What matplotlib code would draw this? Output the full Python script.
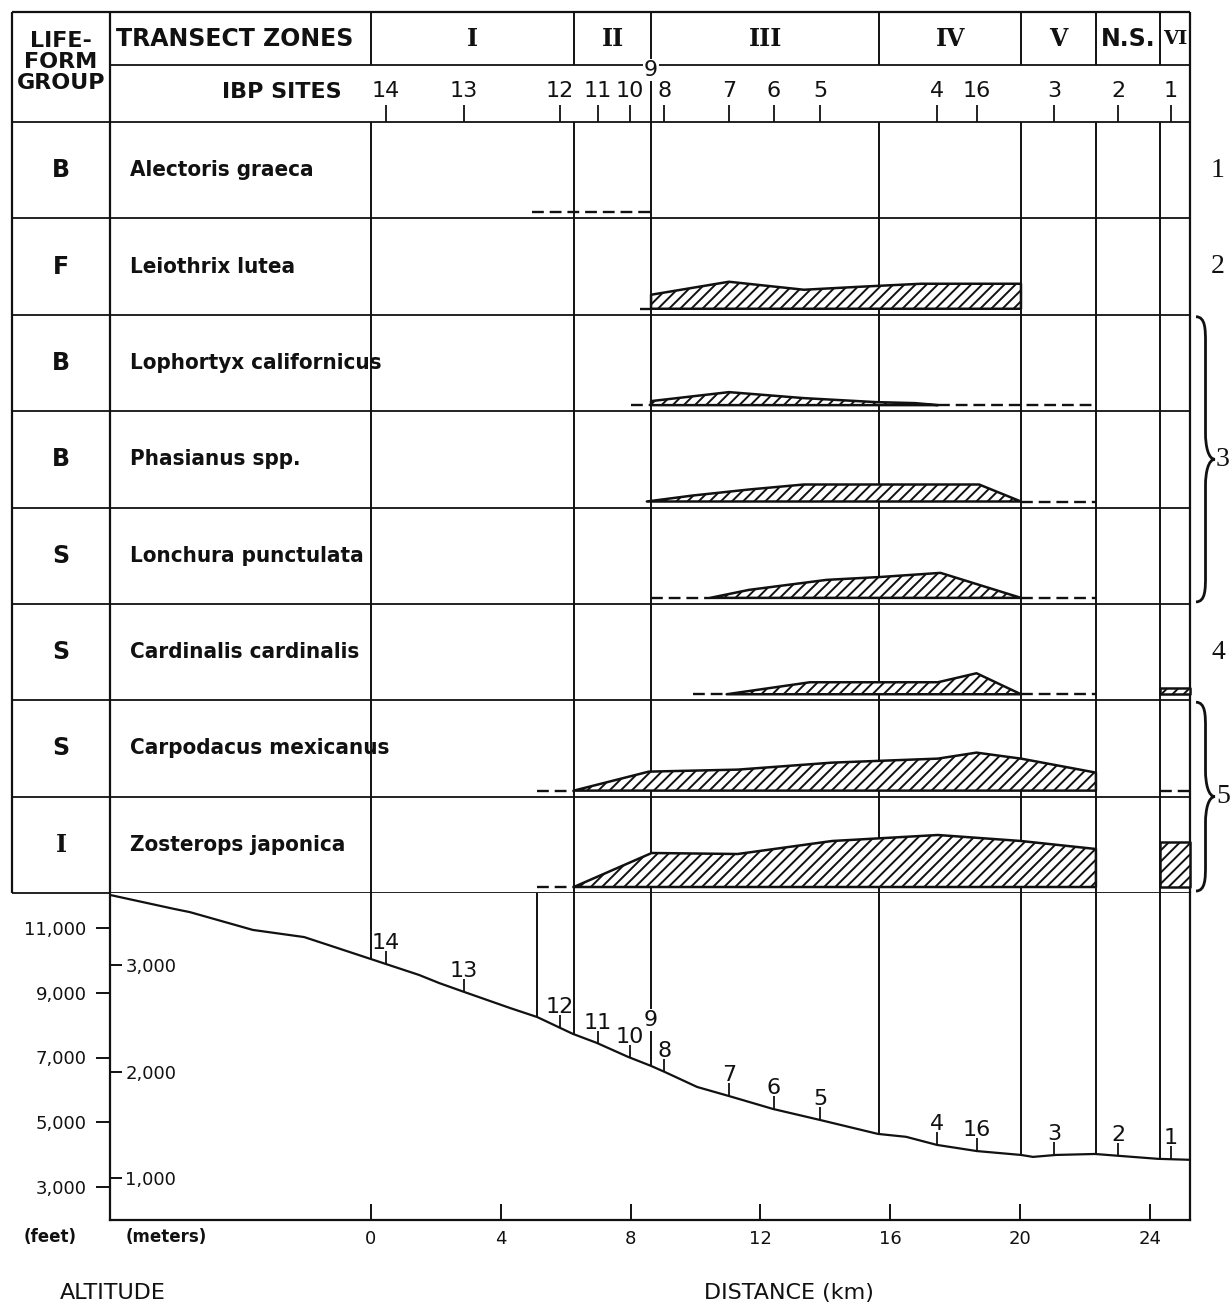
import numpy as np
import matplotlib
matplotlib.use("Agg")
import matplotlib.pyplot as plt
from matplotlib.path import Path
from matplotlib.patches import PathPatch

plt.rcParams['font.family'] = ['DejaVu Sans']
plt.rcParams['hatch.linewidth'] = 1.4
plt.rcParams['hatch.color'] = 'black'

INK = '#111111'

# ---- values ----
# transect zones, edges in km along the transect
zone_names = ['I', 'II', 'III', 'IV', 'V', 'N.S.', 'VI']
zone_edges = [0.0, 6.26, 8.63, 15.66, 20.03, 22.34, 24.31, 25.24]
profile_marks = [5.12]          # extra boundary drawn only on the profile

# IBP sites
site_names = ['14', '13', '12', '11', '10', '9', '8', '7', '6', '5', '4', '16', '3', '2', '1']
site_km = [0.46, 2.87, 5.82, 7.00, 7.98, 8.63, 9.04, 11.03, 12.42, 13.84,
           17.44, 18.67, 21.05, 23.02, 24.65]

# altitude profile (km, feet)
profile_km = [-8.04, -6.07, -5.58, -3.64, -2.06, -1.33, 0.0, 1.48, 2.10, 2.80,
              4.28, 5.12, 6.22, 6.96, 7.92, 8.63, 9.06, 10.05, 11.03, 12.39,
              13.84, 15.62, 16.49, 17.44, 18.67, 20.03, 20.40, 21.11, 22.31,
              23.08, 24.25, 25.24]
profile_ft = [12020, 11590, 11490, 10940, 10720, 10480, 10040, 9550, 9300, 9050,
              8530, 8250, 7730, 7450, 7020, 6740, 6550, 6090, 5810, 5410,
              5070, 4640, 4550, 4300, 4110, 3990, 3930, 3990, 4020,
              3960, 3870, 3840]

species = ['Alectoris graeca', 'Leiothrix lutea', 'Lophortyx californicus',
           'Phasianus spp.', 'Lonchura punctulata', 'Cardinalis cardinalis',
           'Carpodacus mexicanus', 'Zosterops japonica']
life_form = ['B', 'F', 'B', 'B', 'S', 'S', 'S', 'I']

# relative abundance along the transect (hatched profiles)
abund_km = [
    [],
    [8.63, 11.03, 13.34, 15.07, 16.95, 20.03],
    [8.63, 11.03, 13.34, 15.57, 16.77, 17.47],
    [8.50, 9.92, 11.65, 13.34, 18.74, 20.03],
    [10.45, 11.65, 14.04, 15.75, 17.55, 20.03],
    [10.96, 13.53, 17.47, 18.66, 20.03],
    [6.25, 8.56, 11.30, 14.21, 17.47, 18.66, 20.03, 22.34],
    [6.25, 8.65, 11.30, 14.21, 17.47, 20.03, 22.34],
]
abund_val = [
    [],
    [14, 27, 19, 22, 25, 25],
    [4, 13, 7, 3, 2, 0],
    [0, 6, 12, 17, 17, 0],
    [0, 8, 18, 21, 25, 0],
    [0, 12, 12, 21, 0],
    [0, 19, 21, 28, 32, 38, 32, 18],
    [0, 34, 33, 46, 52, 46, 38],
]
zone6_val = [0, 0, 0, 0, 0, 6, 0, 45]
# present but scarce (dashed stretches)
scarce = [
    [(4.96, 8.63)],
    [(8.30, 8.63)],
    [(8.01, 8.63), (17.47, 22.34)],
    [(20.03, 22.34)],
    [(8.63, 10.45), (20.03, 22.34)],
    [(9.93, 10.96), (20.03, 22.34)],
    [(5.11, 6.25), (24.31, 25.24)],
    [(5.11, 6.25)],
]
group_ids = ['1', '2', '3', '4', '5']
group_rows = [(0, 0), (1, 1), (2, 4), (5, 5), (6, 7)]

feet_ticks = [3000, 5000, 7000, 9000, 11000]
meter_ticks = [1000, 2000, 3000]
km_ticks = [0, 4, 8, 12, 16, 20, 24]

# ---- page geometry (pixels on the 1232 x 1305 page) ----
W, H = 1232, 1305
PX_KM = 32.45       # pixels per km
X0 = 371            # pixel column of 0 km
ROW = 96.375        # pixels per species row
HDR2, HDR1 = 57, 53 # header row heights
FT_PX = 0.032375    # pixels per foot
FT_PER_M = 3.28084
DASH = (0, (5, 2.5))


def km(px):
    return (px - X0) / PX_KM


def ft(py):
    return 11000 - (py - 928) / FT_PX


def frame(l, t, r, b):
    return [l / W, 1 - b / H, (r - l) / W, (b - t) / H]


fig = plt.figure(figsize=(W / 100, H / 100), dpi=100)

# ================= table =================
tab = fig.add_axes(frame(12, 12, 1190, 893))
n = len(species)
top = n + (HDR2 + HDR1) / ROW
y_h2 = n + HDR2 / ROW
x_left, x_right, x_name = km(12), km(1190), km(110)
tab.set_xlim(x_left, x_right)
tab.set_ylim(0, top)
tab.axis('off')

kw = dict(color=INK, clip_on=False)
tab.vlines([x_left, x_name, x_right], 0, top, lw=1.6, **kw)
tab.hlines(top, x_left, x_right, lw=1.6, **kw)
tab.hlines(range(n + 1), x_left, x_right, lw=1.3, **kw)
tab.hlines(y_h2, x_name, x_right, lw=1.3, **kw)
tab.vlines(zone_edges[:-1], 0, n, lw=1.4, zorder=1, **kw)
tab.vlines(zone_edges[:-1], y_h2, top, lw=1.4, **kw)

# header text
head = dict(ha='center', va='center', color=INK)
tab.text((x_left + x_name) / 2, n + 60 / ROW, 'LIFE-\nFORM\nGROUP', fontsize=16,
         weight='bold', linespacing=1.05, **head)
tab.text(x_name + 6 / PX_KM, (y_h2 + top) / 2, 'TRANSECT ZONES', fontsize=17,
         weight='bold', ha='left', va='center', color=INK)
tab.text(km(342), n + 30 / ROW, 'IBP SITES', fontsize=16, weight='bold',
         ha='right', va='center', color=INK)
for name, a, b in zip(zone_names, zone_edges[:-1], zone_edges[1:]):
    fam = ['DejaVu Sans'] if '.' in name else ['DejaVu Serif']
    fs = 14 if name == 'VI' else 17
    tab.text((a + b) / 2, (y_h2 + top) / 2, name, fontsize=fs, weight='bold',
             family=fam, **head)

# site ticks in the header
for s, k in zip(site_names, site_km):
    if min(abs(k - e) for e in zone_edges) < 0.05:
        tab.vlines(k, n, y_h2, lw=1.4, **kw)
        tab.text(k, y_h2 - 5 / ROW, s, fontsize=16,
                 bbox=dict(fc='white', ec='none', pad=0.5), **head)
    else:
        tab.vlines(k, n, n + 17 / ROW, lw=1.3, **kw)
        tab.text(k, n + 31 / ROW, s, fontsize=16, **head)

# species rows
base_off = 6 / ROW
for i, name in enumerate(species):
    yb = n - 1 - i
    base = yb + base_off
    lf_fam = ['DejaVu Serif'] if life_form[i] == 'I' else ['DejaVu Sans']
    tab.text((x_left + x_name) / 2, yb + 0.5, life_form[i], fontsize=17,
             weight='bold', family=lf_fam, **head)
    tab.text(x_name + 20 / PX_KM, yb + 0.5, name, fontsize=16, weight='bold',
             fontstretch='condensed', ha='left', va='center', color=INK)
    if abund_km[i]:
        v = np.array(abund_val[i]) / ROW
        tab.fill_between(abund_km[i], base, base + v, facecolor='white',
                         edgecolor=INK, hatch='///', lw=1.8, zorder=3)
    if zone6_val[i]:
        tab.fill_between(zone_edges[-2:], base, base + zone6_val[i] / ROW,
                         facecolor='white', edgecolor=INK, hatch='///', lw=1.8,
                         zorder=3, clip_on=False)
    for a, b in scarce[i]:
        tab.plot([a, b], [base, base], ls=DASH, color=INK, lw=1.7,
                 zorder=3, clip_on=False)


def brace(ax, x0, yt, yb, w, c):
    xm, xt, ym = x0 + w * 0.5, x0 + w, (yt + yb) / 2
    verts = [(x0, yt), (xm, yt), (xm, yt - c), (xm, yt - 2 * c),
             (xm, ym + 2 * c),
             (xm, ym + c), (xm + 0.3 * (xt - xm), ym), (xt, ym),
             (xm + 0.3 * (xt - xm), ym), (xm, ym - c), (xm, ym - 2 * c),
             (xm, yb + 2 * c),
             (xm, yb + c), (xm, yb), (x0, yb)]
    codes = ([Path.MOVETO] + [Path.CURVE4] * 3 + [Path.LINETO] + [Path.CURVE4] * 6
             + [Path.LINETO] + [Path.CURVE4] * 3)
    ax.add_patch(PathPatch(Path(verts, codes), fill=False, ec=INK, lw=2.0,
                           clip_on=False))
    return xt, ym


serif = ['Liberation Serif', 'DejaVu Serif']
for gid, (r0, r1) in zip(group_ids, group_rows):
    yt, yb = n - r0, n - 1 - r1
    if r0 == r1:
        tab.text(km(1218), (yt + yb) / 2, gid, fontsize=20, family=serif,
                 **head)
    else:
        xt, ym = brace(tab, km(1196), yt - 2 / ROW, yb + 2 / ROW,
                       19 / PX_KM, 13 / ROW)
        tab.text(xt + 1 / PX_KM, ym, gid, fontsize=20, family=serif,
                 ha='left', va='center', color=INK)

# ================= altitude profile =================
pro = fig.add_axes(frame(110, 893, 1190, 1220))
pro.set_xlim(km(110), km(1190))
y_lo, y_hi = ft(1220), ft(893)
pro.set_ylim(y_lo, y_hi)
pro.plot(profile_km, profile_ft, color=INK, lw=1.6)

marks = zone_edges[:-1] + profile_marks
pro.vlines(marks, np.interp(marks, profile_km, profile_ft), y_hi, color=INK,
           lw=1.4, clip_on=False)

for s, k in zip(site_names, site_km):
    a = np.interp(k, profile_km, profile_ft)
    if min(abs(k - e) for e in zone_edges) < 0.05:
        pro.text(k, a + 46 / FT_PX, s, fontsize=16, ha='center', va='center',
                 color=INK, bbox=dict(fc='white', ec='none', pad=0.5))
    else:
        pro.vlines(k, a, a + 13 / FT_PX, color=INK, lw=1.3)
        pro.text(k, a + 11 / FT_PX, s, fontsize=16, ha='center', va='bottom',
                 color=INK)

for side in ('left', 'bottom', 'right'):
    pro.spines[side].set_linewidth(1.6)
    pro.spines[side].set_color(INK)
pro.spines['top'].set_visible(False)

pro.set_yticks(feet_ticks, labels=[f'{v:,}' for v in feet_ticks])
pro.tick_params(axis='y', direction='out', length=10, width=1.4, pad=7,
                labelsize=13, colors=INK)
pro.set_xticks(km_ticks, labels=[str(v) for v in km_ticks])
pro.tick_params(axis='x', direction='in', length=11.5, width=1.4, pad=7,
                labelsize=13, colors=INK)

# meters on the same altitude axis
mtr = fig.add_axes(frame(110, 893, 1190, 1220), frameon=False)
mtr.set_ylim(y_lo / FT_PER_M, y_hi / FT_PER_M)
mtr.set_xticks([])
mtr.set_yticks(meter_ticks, labels=[f'{v:,}' for v in meter_ticks])
mtr.tick_params(axis='y', direction='in', length=8.5, width=1.4, pad=-11,
                labelsize=13, colors=INK)
for t in mtr.get_yticklabels():
    t.set_ha('left')

fig.text(50 / W, 1 - 1237 / H, '(feet)', ha='center', va='center', fontsize=12,
         weight='bold', color=INK)
fig.text(166 / W, 1 - 1237 / H, '(meters)', ha='center', va='center',
         fontsize=12, weight='bold', color=INK)
fig.text(113 / W, 1 - 1293 / H, 'ALTITUDE', ha='center', va='center',
         fontsize=16, color=INK)
fig.text(789 / W, 1 - 1293 / H, 'DISTANCE (km)', ha='center', va='center',
         fontsize=16, color=INK)

fig.savefig('out.png', dpi=100, facecolor='white')
